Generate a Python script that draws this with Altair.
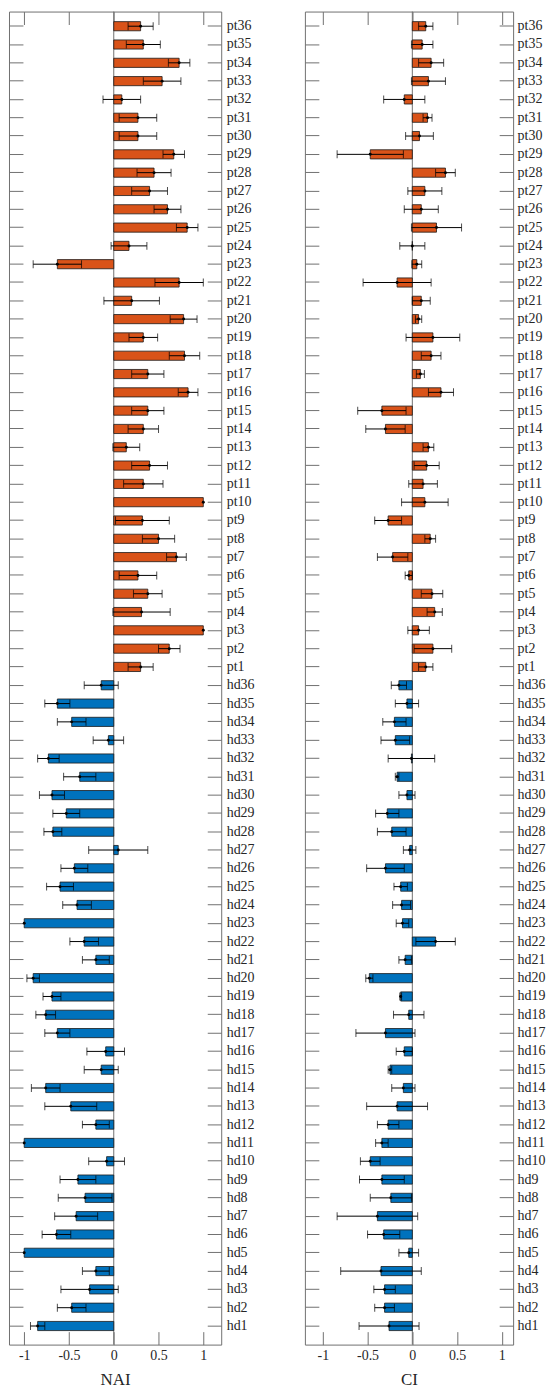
import altair as alt
import pandas as pd

# ---------------- data ----------------
labels_hd = [f"hd{i}" for i in range(1, 37)]
labels_pt = [f"pt{i}" for i in range(1, 37)]

# NAI (left panel): means and symmetric error half-widths, hd1..hd36 / pt1..pt36
nai_hd = [-0.85, -0.47, -0.27, -0.20, -1.00, -0.64, -0.42, -0.32, -0.40, -0.08,
          -1.00, -0.20, -0.48, -0.76, -0.14, -0.09, -0.63, -0.76, -0.69, -0.90,
          -0.20, -0.33, -1.00, -0.41, -0.60, -0.44, 0.05, -0.68, -0.53, -0.69,
          -0.38, -0.73, -0.06, -0.47, -0.63, -0.14]
nai_hd_err = [0.08, 0.16, 0.32, 0.15, 0.0, 0.16, 0.24, 0.30, 0.20, 0.20,
              0.0, 0.15, 0.29, 0.16, 0.19, 0.21, 0.14, 0.11, 0.10, 0.07,
              0.15, 0.16, 0.0, 0.16, 0.15, 0.15, 0.33, 0.10, 0.15, 0.14,
              0.18, 0.12, 0.17, 0.16, 0.14, 0.19]
nai_pt = [0.30, 0.62, 1.00, 0.31, 0.38, 0.27, 0.70, 0.50, 0.32, 1.00,
          0.33, 0.40, 0.14, 0.33, 0.38, 0.83, 0.38, 0.79, 0.33, 0.78,
          0.20, 0.73, -0.63, 0.17, 0.82, 0.60, 0.40, 0.45, 0.67, 0.27,
          0.27, 0.09, 0.54, 0.73, 0.33, 0.30]
nai_pt_err = [0.14, 0.12, 0.0, 0.32, 0.16, 0.21, 0.11, 0.18, 0.30, 0.0,
              0.22, 0.20, 0.15, 0.17, 0.18, 0.11, 0.18, 0.17, 0.16, 0.15,
              0.31, 0.27, 0.27, 0.20, 0.12, 0.15, 0.20, 0.19, 0.12, 0.21,
              0.21, 0.21, 0.21, 0.12, 0.19, 0.14]

# CI (right panel)
ci_hd = [-0.26, -0.31, -0.31, -0.35, -0.04, -0.32, -0.39, -0.24, -0.34, -0.47,
         -0.34, -0.27, -0.17, -0.10, -0.25, -0.09, -0.30, -0.04, -0.13, -0.48,
         -0.08, 0.26, -0.11, -0.12, -0.13, -0.30, -0.03, -0.23, -0.28, -0.06,
         -0.17, -0.01, -0.19, -0.20, -0.06, -0.15]
ci_hd_err = [0.335, 0.11, 0.12, 0.45, 0.11, 0.18, 0.45, 0.23, 0.25, 0.11,
             0.07, 0.12, 0.34, 0.13, 0.02, 0.09, 0.33, 0.17, 0.01, 0.04,
             0.07, 0.22, 0.07, 0.10, 0.075, 0.21, 0.07, 0.16, 0.13, 0.09,
             0.02, 0.26, 0.16, 0.13, 0.13, 0.085]
ci_pt = [0.15, 0.23, 0.07, 0.25, 0.22, -0.04, -0.22, 0.20, -0.27, 0.14,
         0.12, 0.16, 0.18, -0.30, -0.34, 0.32, 0.09, 0.21, 0.23, 0.07,
         0.10, -0.17, 0.05, 0.00, 0.27, 0.10, 0.14, 0.37, -0.47, 0.08,
         0.17, -0.09, 0.18, 0.21, 0.11, 0.15]
ci_pt_err = [0.08, 0.21, 0.12, 0.085, 0.12, 0.04, 0.17, 0.06, 0.15, 0.26,
             0.16, 0.14, 0.06, 0.22, 0.27, 0.14, 0.045, 0.11, 0.30, 0.035,
             0.10, 0.38, 0.055, 0.14, 0.28, 0.19, 0.19, 0.11, 0.37, 0.155,
             0.05, 0.23, 0.19, 0.14, 0.12, 0.08]

x_ticks = [-1, -0.5, 0, 0.5, 1]
panel_titles = ["NAI", "CI"]

# ---------------- styling ----------------
BLUE = "#0072BD"
ORANGE = "#D95319"
FRAME = "#707070"
FONT = "Liberation Serif"

order = labels_pt[::-1] + labels_hd[::-1]  # top to bottom


def make_df(hd, hd_err, pt, pt_err):
    rows = []
    for lab, v, e in zip(labels_hd, hd, hd_err):
        rows.append({"label": lab, "group": "hd", "value": v, "err": e})
    for lab, v, e in zip(labels_pt, pt, pt_err):
        rows.append({"label": lab, "group": "pt", "value": v, "err": e})
    df = pd.DataFrame(rows)
    df["lo"] = df["value"] - df["err"]
    df["hi"] = df["value"] + df["err"]
    df["zero"] = 0.0
    return df


ys = alt.Scale(paddingInner=0.5, paddingOuter=0.658, align=0.418)


def panel(df, title, domain, width, label_pad):
    xs = alt.Scale(domain=domain, nice=False, zero=False)
    base = alt.Chart(df)
    zero_rule = alt.Chart(pd.DataFrame({"z": [0.0]})).mark_rule(
        color=FRAME, strokeWidth=1
    ).encode(x=alt.X("z:Q", scale=xs, axis=None))

    bars = base.mark_bar(stroke="#1a1a1a", strokeWidth=0.8).encode(
        x=alt.X("value:Q", scale=xs, title=title,
                axis=alt.Axis(orient="bottom", values=x_ticks, offset=-13,
                              tickSize=13, domain=False, grid=False,
                              labelExpr="datum.value + ''", labelPadding=4,
                              labelFontSize=14, titlePadding=9,
                              titleFontSize=17)),
        x2="zero:Q",
        y=alt.Y("label:N", sort=order, scale=ys, title=None,
                axis=alt.Axis(orient="right", offset=-14, tickSize=14,
                              domain=False, grid=False, labelPadding=label_pad,
                              labelFontSize=14, labelOverlap=False)),
        color=alt.Color("group:N", legend=None,
                        scale=alt.Scale(domain=["hd", "pt"], range=[BLUE, ORANGE])),
    )

    errs = base.transform_filter("datum.err > 0")
    err_rule = errs.mark_rule(color="black", strokeWidth=1).encode(
        x=alt.X("lo:Q", scale=xs, title=None,
                axis=alt.Axis(orient="top", values=x_ticks, offset=-13,
                              tickSize=13, domain=False, grid=False, labels=False)),
        x2="hi:Q",
        y=alt.Y("label:N", sort=order, scale=ys, title=None,
                axis=alt.Axis(orient="left", offset=-14, tickSize=14,
                              domain=False, grid=False, labels=False)),
    )
    cap_lo = errs.mark_tick(color="black", thickness=1, size=8, orient="vertical").encode(
        x=alt.X("lo:Q", scale=xs, axis=None),
        y=alt.Y("label:N", sort=order, scale=ys, axis=None),
    )
    cap_hi = errs.mark_tick(color="black", thickness=1, size=8, orient="vertical").encode(
        x=alt.X("hi:Q", scale=xs, axis=None),
        y=alt.Y("label:N", sort=order, scale=ys, axis=None),
    )
    pts = base.mark_point(filled=True, size=9, color="black", opacity=1).encode(
        x=alt.X("value:Q", scale=xs, axis=None),
        y=alt.Y("label:N", sort=order, scale=ys, axis=None),
    )
    return alt.layer(zero_rule, bars, err_rule, cap_lo, cap_hi, pts).resolve_axis(
        x="independent", y="independent"
    ).properties(width=width, height=1338)


left = panel(make_df(nai_hd, nai_hd_err, nai_pt, nai_pt_err), panel_titles[0],
             [-1.17, 1.2], 213, 5)
right = panel(make_df(ci_hd, ci_hd_err, ci_pt, ci_pt_err), panel_titles[1],
              [-1.2, 1.126], 209, 4)

chart = alt.hconcat(
    left, right, spacing=84, bounds="flush", padding=0,
).configure_view(
    stroke=FRAME, strokeWidth=1
).configure_axis(
    labelFont=FONT, titleFont=FONT, labelColor="#262626", titleColor="#262626",
    titleFontWeight="normal", tickColor=FRAME, tickWidth=1,
)

chart.save("out.html", embed_options={"renderer": "svg", "actions": False})
